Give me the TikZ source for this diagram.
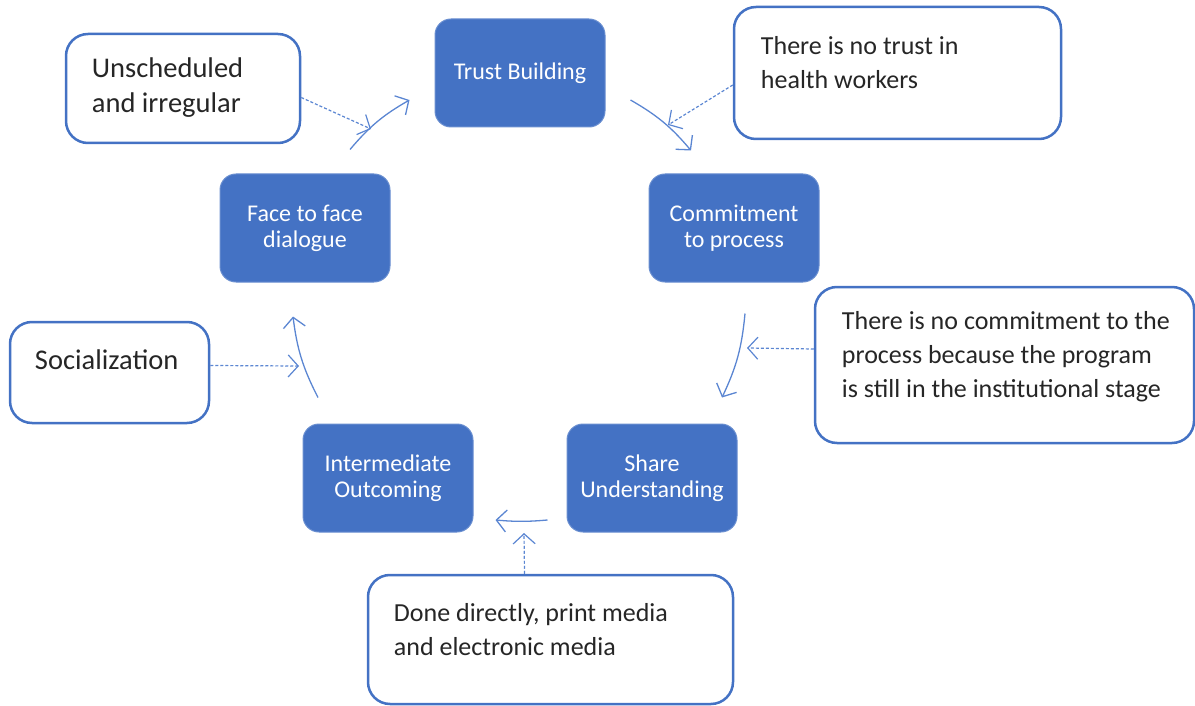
\documentclass[tikz,border=0pt]{standalone}
\usepackage{fontspec}
\setmainfont{Carlito}
\usetikzlibrary{arrows.meta,positioning}
\definecolor{boxblue}{HTML}{4472C4}
\definecolor{linkblue}{HTML}{5B86D2}

\begin{document}
\begin{tikzpicture}[x=1pt,y=-1pt,
  stage/.style={draw=boxblue!80!white, line width=1pt, fill=boxblue,
    rounded corners=16pt, minimum width=170pt, minimum height=108pt,
    inner sep=0pt, align=center, text=white,
    font=\fontsize{24}{26}\selectfont},
  note/.style={draw=boxblue, line width=2.5pt, fill=white,
    rounded corners=22pt, inner sep=0pt},
  notetext/.style={anchor=base west, inner sep=0pt, align=left,
    text=black!85, font=\fontsize{26}{34}\selectfont},
  bignotetext/.style={notetext, font=\fontsize{28.5}{35}\selectfont},
  flow/.style={draw=linkblue, line width=1.3pt,
    -{Straight Barb[length=10pt,width=22pt]}, bend left=10},
  hint/.style={draw=linkblue, line width=1.2pt,
    dash pattern=on 3pt off 2pt,
    -{Straight Barb[length=10pt,width=22pt]}}]
  \useasboundingbox (0,0) rectangle (1195,706);

  \node[stage] (trust) at (520,73) {Trust Building};
  \node[stage] (commit) at (734,228) {Commitment\\to process};
  \node[stage] (share) at (652,478) {Share\\Understanding};
  \node[stage] (inter) at (388,478) {Intermediate\\Outcoming};
  \node[stage] (face) at (305,228) {Face to face\\dialogue};

  \node[note, minimum width=234pt, minimum height=109pt] (unsched)
    at (183,88.5) {};
  \node[note, minimum width=327pt, minimum height=132pt] (notrust)
    at (897.5,73) {};
  \node[note, minimum width=379pt, minimum height=156pt] (nocommit)
    at (1004.5,365) {};
  \node[note, minimum width=199pt, minimum height=101pt] (social)
    at (109.5,372.5) {};
  \node[note, minimum width=365pt, minimum height=129pt] (done)
    at (550.5,639.5) {};

  \node[bignotetext] (unschedtext) at ([shift={(27,80)}]unsched.north west)
    {Unscheduled\\and irregular};
  \node[notetext] (notrusttext) at ([shift={(28,83)}]notrust.north west)
    {There is no trust in\\health workers};
  \node[notetext] (nocommittext) at ([shift={(28,112)}]nocommit.north west)
    {There is no commitment to the\\process because the program\\is still in the institutional stage};
  \node[bignotetext] (socialtext) at ([shift={(26,49)}]social.north west)
    {Socialization};
  \node[notetext] (donetext) at ([shift={(27,82)}]done.north west)
    {Done directly, print media\\and electronic media};

  \draw[flow] ([shift={(45,-24)}]face.north) to ([shift={(-25,27)}]trust.west);
  \draw[flow] ([shift={(25,27)}]trust.east) to ([shift={(-43,-23)}]commit.north);
  \draw[flow] ([shift={(11,31)}]commit.south) to ([shift={(70,-26)}]share.north);
  \draw[flow, bend left=5] ([shift={(-19,42)}]share.west) to ([shift={(22,42)}]inter.east);
  \draw[flow] ([shift={(-70,-26)}]inter.north) to ([shift={(-12,34)}]face.south);

  \coordinate (unschedend) at (371,129);
  \coordinate (notrustend) at (668,125);
  \coordinate (nocommitend) at (747,348);
  \coordinate (socialend) at (299,366);
  \coordinate (doneend) at (524,533);

  \draw[hint] ([yshift=-9pt]unsched.east) -- (unschedend);
  \draw[hint] ([yshift=-12pt]notrust.west) -- (notrustend);
  \draw[hint] ([yshift=16pt]nocommit.west) -- (nocommitend);
  \draw[hint] ([yshift=7pt]social.east) -- (socialend);
  \draw[hint] ([xshift=-26pt]done.north) -- (doneend);
\end{tikzpicture}
\end{document}
